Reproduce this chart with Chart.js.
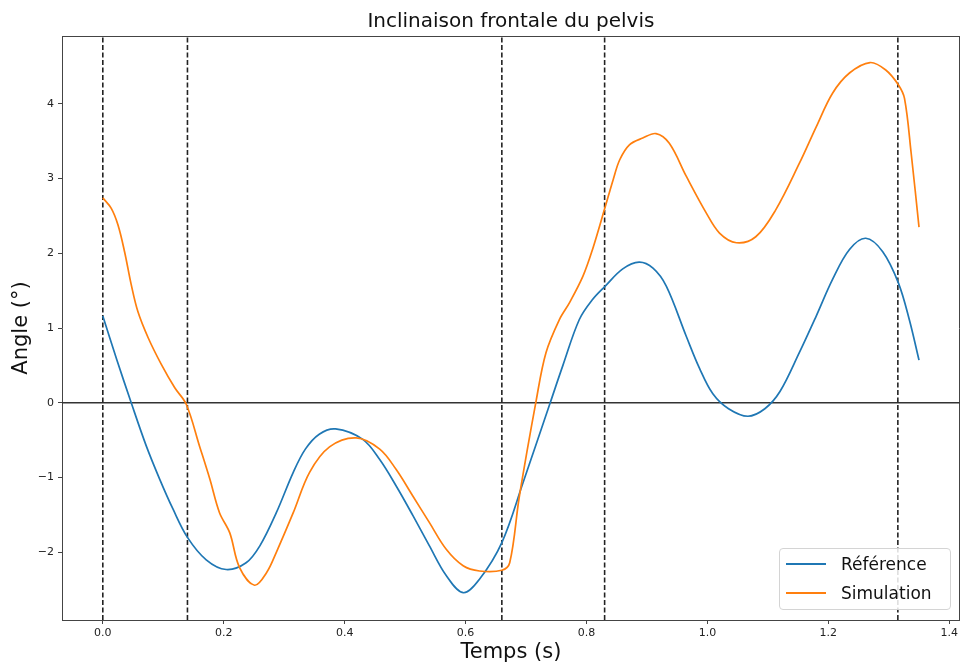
<!DOCTYPE html>
<html lang="fr">

<head>
    <meta charset="UTF-8">
    <style>
        body {
            margin: 0;
            background-color: white;
        }

        #wrap {
            position: relative;
            width: 961px;
            height: 668px;
        }

        #legend {
            position: absolute;
            left: 779px;
            top: 548px;
            width: 172px;
            height: 62px;
            box-sizing: border-box;
            border: 1px solid #d4d4d4;
            border-radius: 4px;
            background: rgba(255, 255, 255, 0.85);
            font-family: 'DejaVu Sans', sans-serif;
            font-size: 17px;
            color: #111;
        }

        .row {
            position: absolute;
            left: 0;
            height: 22px;
            line-height: 22px;
        }

        .swatch {
            position: absolute;
            left: 6px;
            top: 10px;
            width: 40px;
            height: 2px;
        }

        .label {
            position: absolute;
            left: 61px;
            white-space: nowrap;
        }
    </style>
    <title>Inclinaison frontale du pelvis</title>
</head>

<body>
    <div id="wrap">
        <canvas id="myChart" width="961" height="668"></canvas>
        <div id="legend"></div>
    </div>
    <script src="https://cdn.jsdelivr.net/npm/chart.js"></script>
    <script>
        // Référence (blue)
        const refTime = [0.000, 0.023, 0.047, 0.072, 0.094, 0.116, 0.140, 0.171, 0.204, 0.237, 0.260, 0.287,
            0.315, 0.335, 0.358, 0.385, 0.430, 0.458, 0.485, 0.513, 0.540, 0.568, 0.596, 0.623, 0.660, 0.695,
            0.740, 0.761, 0.788, 0.810, 0.831, 0.860, 0.887, 0.910, 0.932, 0.965, 0.987, 1.009, 1.035, 1.067,
            1.095, 1.120, 1.152, 1.180, 1.207, 1.235, 1.262, 1.290, 1.316, 1.334, 1.350];
        const refAngle = [1.16, 0.58, 0.00, -0.58, -1.02, -1.42, -1.80, -2.10, -2.23, -2.14, -1.91, -1.47,
            -0.93, -0.62, -0.42, -0.35, -0.49, -0.76, -1.11, -1.51, -1.91, -2.31, -2.54, -2.36, -1.87, -1.07,
            0.00, 0.50, 1.11, 1.38, 1.56, 1.79, 1.88, 1.80, 1.56, 0.89, 0.46, 0.12, -0.08, -0.18,
            -0.08, 0.15, 0.67, 1.16, 1.65, 2.05, 2.20, 2.02, 1.60, 1.11, 0.57];

        // Simulation (orange)
        const simTime = [0.000, 0.014, 0.025, 0.036, 0.047, 0.058, 0.075, 0.097, 0.119, 0.138, 0.160, 0.177,
            0.193, 0.210, 0.226, 0.251, 0.271, 0.287, 0.315, 0.342, 0.375, 0.419, 0.458, 0.485, 0.513, 0.540,
            0.568, 0.596, 0.623, 0.660, 0.673, 0.689, 0.717, 0.733, 0.755, 0.772, 0.794, 0.810, 0.831, 0.844,
            0.855, 0.871, 0.893, 0.915, 0.937, 0.965, 0.998, 1.020, 1.048, 1.080, 1.113, 1.152, 1.180, 1.207,
            1.235, 1.269, 1.295, 1.316, 1.326, 1.337, 1.350];
        const simAngle = [2.74, 2.60, 2.38, 2.02, 1.58, 1.22, 0.87, 0.51, 0.20, -0.02, -0.58, -1.02,
            -1.47, -1.74, -2.20, -2.44, -2.27, -2.00, -1.47, -0.93, -0.59, -0.47, -0.62, -0.89, -1.25, -1.60,
            -1.96, -2.18, -2.25, -2.24, -2.14, -1.25, 0.04, 0.67, 1.11, 1.34, 1.69, 2.05, 2.62, 2.98,
            3.25, 3.45, 3.54, 3.60, 3.47, 3.03, 2.54, 2.27, 2.14, 2.22, 2.58, 3.20, 3.69, 4.14,
            4.41, 4.55, 4.45, 4.25, 4.07, 3.34, 2.35];

        // vertical dashed event lines
        const eventTimes = [0.0, 0.14, 0.66, 0.83, 1.315];

        const xLimits = [-0.0675, 1.4175];
        const yLimits = [-2.905, 4.905];
        const xTicks = [0.0, 0.2, 0.4, 0.6, 0.8, 1.0, 1.2, 1.4];
        const yTicks = [-2, -1, 0, 1, 2, 3, 4];

        const toPoints = (xs, ys) => xs.map((x, i) => ({ x: x, y: ys[i] }));

        const datasets = [
            {
                label: 'Référence',
                data: toPoints(refTime, refAngle),
                borderColor: '#1f77b4',
                borderWidth: 1.7,
                tension: 0.35,
                order: 1
            },
            {
                label: 'Simulation',
                data: toPoints(simTime, simAngle),
                borderColor: '#ff7f0e',
                borderWidth: 1.7,
                tension: 0.35,
                order: 0
            },
            {
                // horizontal zero line
                label: '',
                data: toPoints(xLimits, [0, 0]),
                borderColor: '#333',
                borderWidth: 1.6,
                order: 3
            }
        ];
        eventTimes.forEach(t => {
            datasets.push({
                label: '',
                data: toPoints([t, t], yLimits),
                borderColor: '#222',
                borderWidth: 1.6,
                borderDash: [5, 2.5],
                order: 2
            });
        });

        const font = 'DejaVu Sans';
        const axisColor = '#444';

        const chart = new Chart(document.getElementById('myChart'), {
            type: 'line',
            data: { datasets: datasets },
            options: {
                responsive: false,
                animation: false,
                events: [],
                elements: { point: { radius: 0 } },
                layout: { padding: 0 },
                plugins: {
                    legend: { display: false },
                    title: { display: false },
                    tooltip: { enabled: false }
                },
                scales: {
                    x: {
                        type: 'linear',
                        position: 'bottom',
                        min: xLimits[0],
                        max: xLimits[1],
                        afterBuildTicks: s => { s.ticks = xTicks.map(v => ({ value: v })); },
                        afterFit: s => { s.height = 48; },
                        grid: { drawOnChartArea: false, tickLength: 4, color: axisColor },
                        border: { color: axisColor, width: 1 },
                        ticks: {
                            padding: 3,
                            maxRotation: 0,
                            color: '#222',
                            font: { family: font, size: 11 },
                            callback: v => v.toFixed(1)
                        },
                        title: {
                            display: true,
                            text: 'Temps (s)',
                            color: '#111',
                            font: { family: font, size: 21 },
                            padding: { top: 0, bottom: 3 }
                        }
                    },
                    y: {
                        type: 'linear',
                        position: 'left',
                        min: yLimits[0],
                        max: yLimits[1],
                        afterBuildTicks: s => { s.ticks = yTicks.map(v => ({ value: v })); },
                        afterFit: s => { s.width = 62; },
                        grid: { drawOnChartArea: false, tickLength: 4, color: axisColor },
                        border: { color: axisColor, width: 1 },
                        ticks: {
                            padding: 4,
                            color: '#222',
                            font: { family: font, size: 11 },
                            callback: v => (v < 0 ? '\u2212' + Math.abs(v) : String(v))
                        },
                        title: {
                            display: true,
                            text: 'Angle (°)',
                            color: '#111',
                            font: { family: font, size: 21 },
                            padding: { top: 9, bottom: 0 }
                        }
                    },
                    // top spine, carries the chart title centred on the axes
                    x2: {
                        type: 'linear',
                        display: true,
                        position: 'top',
                        min: xLimits[0],
                        max: xLimits[1],
                        afterFit: s => { s.height = 36; },
                        grid: { drawOnChartArea: false, drawTicks: false },
                        border: { color: axisColor, width: 1 },
                        ticks: { display: false },
                        title: {
                            display: true,
                            text: 'Inclinaison frontale du pelvis',
                            color: '#111',
                            font: { family: font, size: 20 },
                            padding: { top: 10, bottom: 0 }
                        }
                    },
                    // right spine
                    y2: {
                        type: 'linear',
                        display: true,
                        position: 'right',
                        min: yLimits[0],
                        max: yLimits[1],
                        afterFit: s => { s.width = 1; },
                        grid: { drawOnChartArea: false, drawTicks: false },
                        border: { color: axisColor, width: 1 },
                        ticks: { display: false }
                    }
                }
            }
        });

        // legend box inside the axes, lower right
        const legendEl = document.getElementById('legend');
        chart.data.datasets.filter(d => d.label).forEach((d, i) => {
            const row = document.createElement('div');
            row.className = 'row';
            row.style.top = (4 + i * 29) + 'px';
            const sw = document.createElement('div');
            sw.className = 'swatch';
            sw.style.background = d.borderColor;
            const lab = document.createElement('span');
            lab.className = 'label';
            lab.textContent = d.label;
            row.appendChild(sw);
            row.appendChild(lab);
            legendEl.appendChild(row);
        });
    </script>
</body>

</html>
